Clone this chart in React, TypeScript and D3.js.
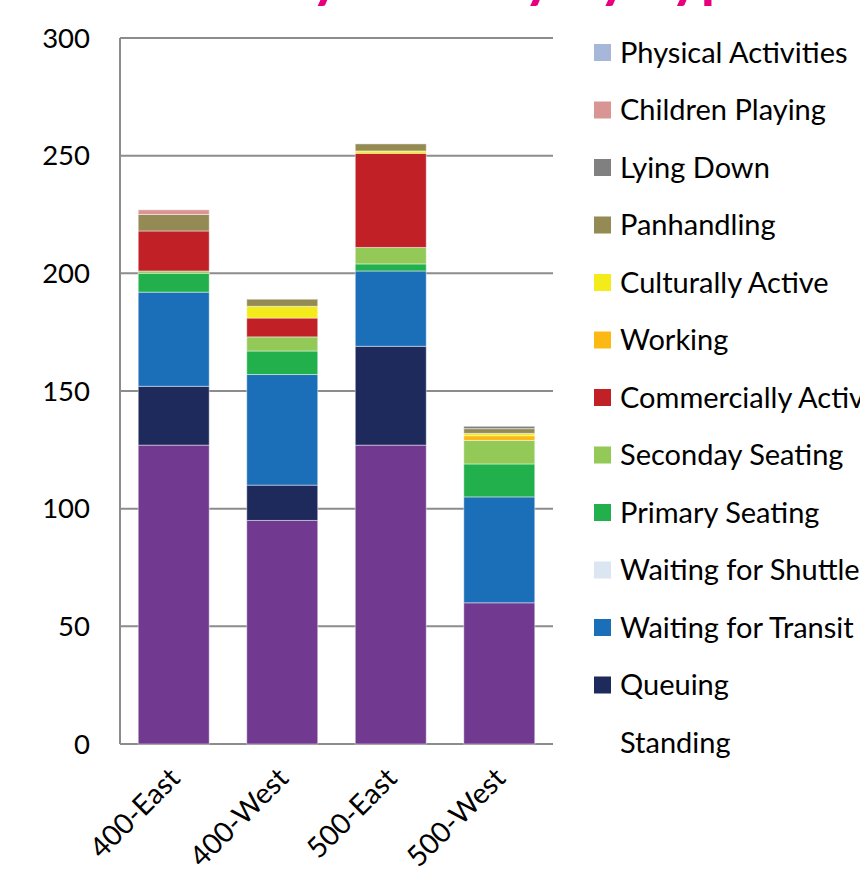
import React from 'react';
import * as d3 from 'd3';

// stops along the corridor
const categories = ['400-East', '400-West', '500-East', '500-West'];

// activity types, bottom of the stack first
const activities = [
  'Standing',
  'Queuing',
  'Waiting for Transit',
  'Waiting for Shuttle',
  'Primary Seating',
  'Seconday Seating',
  'Commercially Active',
  'Working',
  'Culturally Active',
  'Panhandling',
  'Lying Down',
  'Children Playing',
  'Physical Activities',
];

const colors = [
  '#71398f', '#1f2a5c', '#1b6fb8', '#dce6f2', '#21b04b', '#92c957',
  '#c12026', '#fdb913', '#f4eb1b', '#948a54', '#808080', '#d99594', '#a7b7d9',
];

// counts per stop, same order as activities
const east400 = [127, 25, 40, 0, 8, 1, 17, 0, 0, 7, 0, 2, 0];
const west400 = [95, 15, 47, 0, 10, 6, 8, 0, 5, 3, 0, 0, 0];
const east500 = [127, 42, 32, 0, 3, 7, 40, 0, 1, 3, 0, 0, 0];
const west500 = [60, 0, 45, 0, 14, 10, 0, 2, 1, 2, 1, 0, 0];

const yTicks = [0, 50, 100, 150, 200, 250, 300];

// title sits mostly above the picture, only its descenders show
const title = 'Activity Density by Type';

const FONT = 'Lato, "Noto Sans", sans-serif';

export default function App() {
  const width = 860;
  const height = 873;

  const rows = [east400, west400, east500, west500].map((vals, i) => {
    const r: Record<string, any> = { cat: categories[i] };
    activities.forEach((a, j) => (r[a] = vals[j]));
    return r;
  });

  const series = d3.stack<any>().keys(activities)(rows);

  const x = d3.scaleBand()
    .domain(categories)
    .range([120, 553])
    .paddingInner(0.346)
    .paddingOuter(0.168);

  const y = d3.scaleLinear().domain([0, 300]).range([744, 38]);

  const legendY = d3.scalePoint()
    .domain([...activities].reverse())
    .range([52.5, 742.5]);

  return (
    <svg
      width={width}
      height={height}
      style={{ position: 'absolute', left: 0, top: 0, background: '#fff' }}
      fontFamily={FONT}
    >
      <text x={452} y={-4} textAnchor="middle" fontSize={58} fontWeight="bold" fill="#e6007e">
        {title}
      </text>

      {/* gridlines */}
      {yTicks.map(t => (
        <line key={t} x1={120} x2={553} y1={y(t)} y2={y(t)} stroke="#8c8c8c" strokeWidth={2} />
      ))}
      <line x1={120} x2={120} y1={y(300)} y2={y(0)} stroke="#8c8c8c" strokeWidth={2} />

      {yTicks.map(t => (
        <text key={t} x={90} y={y(t)} dy="0.35em" textAnchor="end" fontSize={27.5} fill="#000">
          {t}
        </text>
      ))}

      {series.map((s, i) => (
        <g key={s.key} fill={colors[i]}>
          {s.map((d, j) =>
            d[1] - d[0] > 0 ? (
              <rect
                key={j}
                x={x(categories[j])}
                width={x.bandwidth()}
                y={y(d[1])}
                height={y(d[0]) - y(d[1])}
                stroke="#ffffff"
                strokeOpacity={0.45}
                strokeWidth={1}
              />
            ) : null
          )}
        </g>
      ))}

      {categories.map(c => {
        const cx = (x(c) as number) + x.bandwidth() / 2 + 8;
        return (
          <text
            key={c}
            transform={`translate(${cx},780) rotate(-45)`}
            textAnchor="end"
            fontSize={28.5}
            fill="#000"
          >
            {c}
          </text>
        );
      })}

      {activities.map((a, i) => (
        <g key={a} transform={`translate(594,${legendY(a)})`}>
          {a !== 'Standing' && (
            <rect x={0} y={-8.5} width={17} height={17} fill={colors[i]} />
          )}
          <text x={26} dy="0.35em" fontSize={29} fill="#000">
            {a}
          </text>
        </g>
      ))}
    </svg>
  );
}
